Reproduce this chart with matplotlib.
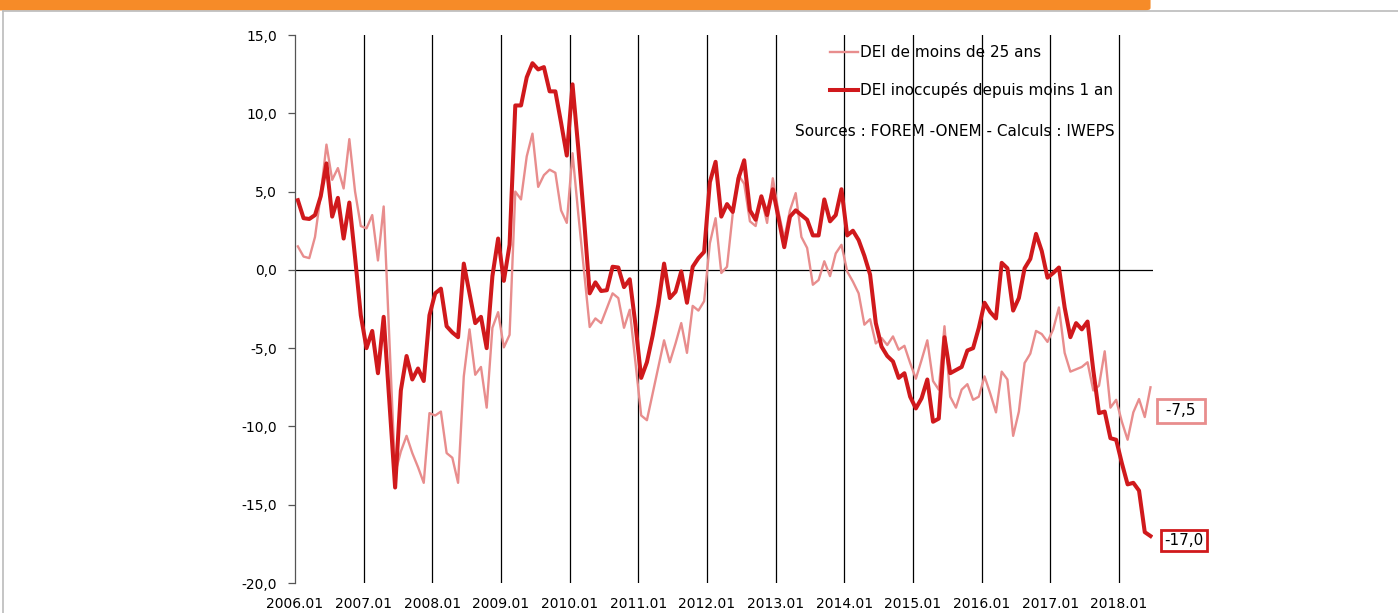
import numpy as np
import matplotlib
matplotlib.use("Agg")
import matplotlib.pyplot as plt
from matplotlib.lines import Line2D
from matplotlib.patches import FancyBboxPatch
from matplotlib.ticker import FuncFormatter

plt.rcParams['font.family'] = ['DejaVu Sans']

# monthly series, 2006.01 -> 2018.06 (year-on-year change, %)
dei_moins_25 = [
    1.5, 0.85, 0.75, 2.1, 4.8, 8.0, 5.75, 6.5, 5.2, 8.35, 5.0, 2.8,
    2.65, 3.5, 0.6, 4.05, -4.5, -13.0, -11.6, -10.6, -11.7, -12.6, -13.6, -9.15,
    -9.3, -9.05, -11.7, -12.0, -13.6, -6.8, -3.8, -6.7, -6.2, -8.8, -3.7, -2.7,
    -4.95, -4.15, 5.0, 4.5, 7.25, 8.7, 5.3, 6.05, 6.4, 6.2, 3.8, 3.0,
    7.45, 3.6, 0.0, -3.65, -3.1, -3.4, -2.45, -1.5, -1.8, -3.7, -2.55, -5.9,
    -9.3, -9.6, -7.9, -6.2, -4.5, -5.9, -4.7, -3.4, -5.3, -2.3, -2.6, -2.0,
    1.7, 3.3, -0.2, 0.2, 3.6, 6.05, 5.5, 3.1, 2.8, 4.6, 3.0, 5.85,
    3.7, 2.0, 3.8, 4.9, 2.1, 1.4, -0.95, -0.65, 0.55, -0.4, 1.05, 1.6,
    -0.1, -0.75, -1.5, -3.5, -3.15, -4.7, -4.35, -4.8, -4.25, -5.1, -4.85, -5.95,
    -6.95, -5.75, -4.5, -7.1, -7.65, -3.6, -8.1, -8.8, -7.65, -7.3, -8.3, -8.1,
    -6.8, -7.9, -9.1, -6.5, -7.0, -10.6, -9.05, -5.95, -5.35, -3.9, -4.1, -4.6,
    -3.8, -2.4, -5.3, -6.5, -6.35, -6.2, -5.9, -7.7, -7.4, -5.2, -8.8, -8.3,
    -9.7, -10.85, -9.1, -8.25, -9.4, -7.5,
]
dei_moins_1an = [
    4.45, 3.3, 3.25, 3.5, 4.7, 6.8, 3.4, 4.6, 2.0, 4.3, 0.8, -2.9,
    -5.0, -3.9, -6.6, -3.0, -8.4, -13.9, -7.7, -5.5, -7.0, -6.3, -7.1, -2.9,
    -1.5, -1.2, -3.6, -4.0, -4.3, 0.4, -1.5, -3.4, -3.0, -5.0, -0.4, 2.0,
    -0.7, 1.6, 10.5, 10.5, 12.3, 13.2, 12.8, 12.95, 11.4, 11.4, 9.4, 7.3,
    11.85, 7.8, 3.3, -1.5, -0.8, -1.35, -1.3, 0.2, 0.15, -1.1, -0.6, -3.5,
    -6.9, -5.9, -4.2, -2.2, 0.4, -1.8, -1.4, -0.1, -2.1, 0.2, 0.75, 1.15,
    5.6, 6.9, 3.4, 4.2, 3.7, 5.85, 7.0, 3.8, 3.2, 4.7, 3.5, 5.15,
    3.3, 1.45, 3.4, 3.8, 3.5, 3.2, 2.2, 2.2, 4.5, 3.1, 3.5, 5.15,
    2.2, 2.5, 1.9, 0.9, -0.3, -3.4, -4.9, -5.5, -5.85, -6.9, -6.6, -8.1,
    -8.85, -8.2, -7.0, -9.7, -9.5, -4.3, -6.6, -6.4, -6.2, -5.15, -5.0, -3.7,
    -2.1, -2.7, -3.1, 0.45, 0.1, -2.6, -1.8, 0.1, 0.7, 2.3, 1.2, -0.5,
    -0.2, 0.15, -2.4, -4.3, -3.4, -3.8, -3.3, -6.4, -9.15, -9.05, -10.75, -10.85,
    -12.35, -13.7, -13.6, -14.1, -16.75, -17.0,
]
years = list(range(2006, 2019))
year_labels = [f"{y}.01" for y in years]

light = '#E88D8D'
dark = '#D0191C'

fig = plt.figure(figsize=(13.98, 6.13), dpi=100)
ax = fig.add_axes([0.2110, 0.0489, 0.6140, 0.8940])

x = np.arange(len(dei_moins_1an)) + 0.5
ax.plot(x, dei_moins_25, color=light, lw=1.7, label='DEI de moins de 25 ans', zorder=3)
ax.plot(x, dei_moins_1an, color=dark, lw=2.9, label='DEI inoccupés depuis moins 1 an', zorder=4)

ax.set_xlim(0, len(x))
ax.set_ylim(-20, 15)

# year separators and zero axis
for k in range(1, len(years)):
    ax.axvline(12 * k, color='black', lw=0.9, zorder=1)
ax.axhline(0, color='black', lw=0.9, zorder=2)

ax.set_yticks(np.arange(-20, 16, 5))
ax.yaxis.set_major_formatter(FuncFormatter(lambda v, p: f"{v:.1f}".replace('.', ',')))
ax.set_xticks([12 * k for k in range(len(years))])
ax.set_xticklabels(year_labels)
ax.tick_params(axis='y', direction='out', length=5, width=0.9, color='#555555',
               labelsize=10, pad=8)
ax.tick_params(axis='x', length=0, labelsize=10, pad=10)
for s in ['top', 'right', 'bottom']:
    ax.spines[s].set_visible(False)
ax.spines['left'].set_color('#555555')
ax.spines['left'].set_linewidth(0.9)

leg = ax.legend(loc='upper left', bbox_to_anchor=(0.6074, 1.006), frameon=False,
                fontsize=11, handlelength=1.85, handletextpad=0.13, labelspacing=1.4)

ax.text(0.5825, 0.8248, 'Sources : FOREM -ONEM - Calculs : IWEPS', transform=ax.transAxes,
        fontsize=11, ha='left', va='center')

# end value labels
ax.annotate(" " + f"{dei_moins_25[-1]:.1f}".replace('.', ',') + " ", xy=(x[-1], dei_moins_25[-1]),
            xytext=(22, -17), textcoords='offset points', ha='center', va='center', fontsize=11,
            bbox=dict(boxstyle='square,pad=0.3', fc='white', ec=light, lw=2), annotation_clip=False)
ax.annotate(f"{dei_moins_1an[-1]:.1f}".replace('.', ','), xy=(x[-1], dei_moins_1an[-1]),
            xytext=(24, -3), textcoords='offset points', ha='center', va='center', fontsize=11,
            bbox=dict(boxstyle='square,pad=0.2', fc='white', ec=dark, lw=2), annotation_clip=False)

# page frame and orange header band
fig.add_artist(Line2D([0.002, 0.002], [0, 0.982], color='#BBBBBB', lw=1.2))
fig.add_artist(Line2D([0.002, 1.0], [0.982, 0.982], color='#BBBBBB', lw=1.2))
fig.add_artist(FancyBboxPatch((-0.01, 0.983), 0.833, 0.05,
                              boxstyle='round,pad=0,rounding_size=0.004',
                              fc='#F68B28', ec='none'))

fig.savefig('out.png', dpi=100)
